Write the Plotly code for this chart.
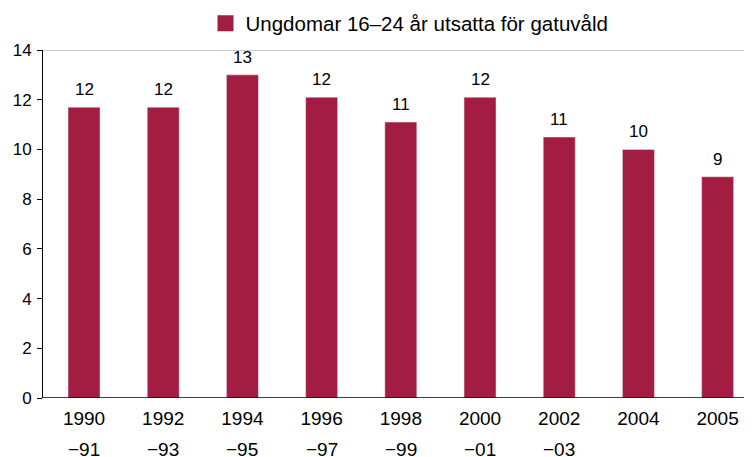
import plotly.graph_objects as go

years_line1 = ["1990", "1992", "1994", "1996", "1998", "2000", "2002", "2004", "2005"]
years_line2 = ["−91", "−93", "−95", "−97", "−99", "−01", "−03", "", ""]
values = [11.7, 11.7, 13.0, 12.1, 11.1, 12.1, 10.5, 10.0, 8.9]
labels = ["12", "12", "13", "12", "11", "12", "11", "10", "9"]
series_name = "Ungdomar 16–24 år utsatta för gatuvåld"
y_ticks = [0, 2, 4, 6, 8, 10, 12, 14]

color = "#A31C42"
font = "Liberation Sans, Arial, sans-serif"

# page has an 8px body margin; figure is sized to fill the 752x457 window
W, H = 744, 449
x = list(range(len(years_line1)))

fig = go.Figure()
fig.add_trace(go.Bar(x=x, y=values, marker_color=color, width=0.404, showlegend=False))
fig.add_trace(go.Scatter(x=[None], y=[None], mode="markers", name=series_name,
                         marker=dict(symbol="square", size=19, color=color),
                         showlegend=True))

for xi, v, t in zip(x, values, labels):
    fig.add_annotation(x=xi, y=v, text=t, showarrow=False, yanchor="bottom",
                       yshift=6, font=dict(size=17, color="black", family=font))
for xi, t in zip(x, years_line2):
    if t:
        fig.add_annotation(x=xi, y=0, yref="paper", text=t, showarrow=False,
                           yanchor="top", yshift=-39,
                           font=dict(size=19, color="black", family=font))

fig.update_layout(
    width=W, height=H,
    margin=dict(l=35, r=0, t=42, b=59, autoexpand=False),
    paper_bgcolor="white", plot_bgcolor="white",
    font=dict(family=font, size=17, color="black"),
    showlegend=True,
    legend=dict(orientation="h", x=197.5 / W, xanchor="left", xref="container",
                y=1 - 15.5 / H, yanchor="middle", yref="container",
                font=dict(size=20.5), itemwidth=30),
    xaxis=dict(range=[-0.518, 8.434], tickmode="array", tickvals=x, ticktext=years_line1,
               showline=False, ticks="", showgrid=False, zeroline=False,
               tickfont=dict(size=19), automargin=False, ticklabelstandoff=7),
    yaxis=dict(range=[0, 14], tickvals=y_ticks, showline=True, linecolor="black",
               linewidth=1, ticks="outside", ticklen=5, tickcolor="black",
               showgrid=False, zeroline=False, tickfont=dict(size=17),
               automargin=False, ticklabelstandoff=2),
)
fig.add_shape(type="line", xref="paper", yref="y", x0=0, x1=1, y0=14, y1=14,
              line=dict(color="#999999", width=1))
fig.add_shape(type="line", xref="paper", yref="y", x0=0, x1=1, y0=0, y1=0,
              line=dict(color="black", width=1.5))

fig.write_html("out.html")
